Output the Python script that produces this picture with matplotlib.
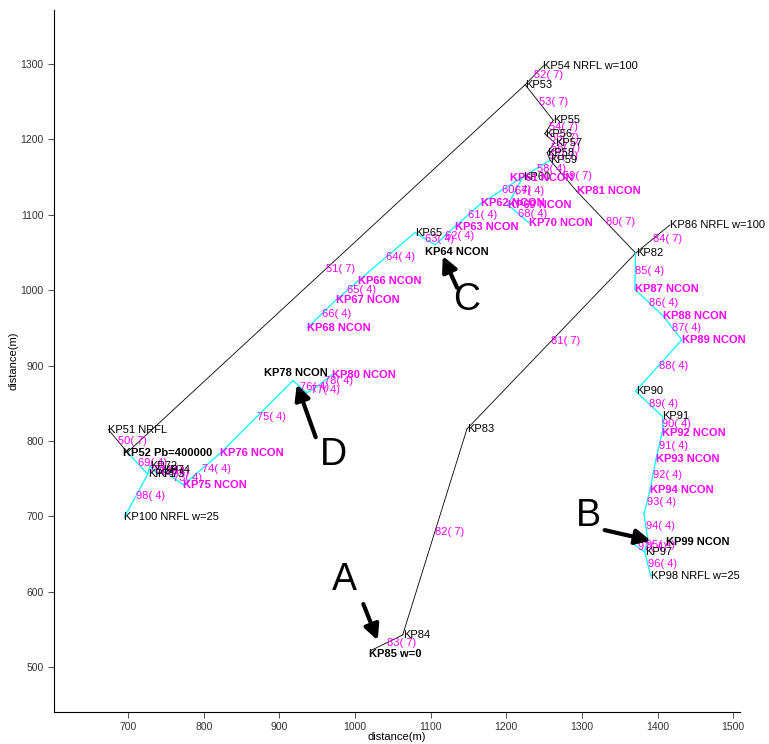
import matplotlib
matplotlib.use("Agg")
import matplotlib.pyplot as plt

plt.rcParams['font.family'] = ['Liberation Sans', 'DejaVu Sans']

# network nodes: name, position (m), tag shown after the name, label style
node_names = ["KP51", "KP52", "KP53", "KP54", "KP55", "KP56", "KP57", "KP58", "KP59", "KP60",
              "KP61", "KP62", "KP63", "KP64", "KP65", "KP66", "KP67", "KP68", "KP69", "KP70",
              "KP71", "KP72", "KP73", "KP74", "KP75", "KP76", "KP77", "KP78", "KP79", "KP80",
              "KP81", "KP82", "KP83", "KP84", "KP85", "KP86", "KP87", "KP88", "KP89", "KP90",
              "KP91", "KP92", "KP93", "KP94", "KP95", "KP96", "KP97", "KP98", "KP99", "KP100"]
node_x = [674, 699, 1225, 1249, 1262, 1251, 1264, 1254, 1258, 1222,
          1205, 1167, 1132, 1106, 1079, 1004, 975, 937, 1202, 1230,
          726, 729, 739, 746, 773, 822, 918, 936, 947, 970,
          1293, 1371, 1148, 1063, 1022, 1416, 1370, 1407, 1432, 1371,
          1406, 1406, 1398, 1390, 1382, 1387, 1383, 1391, 1366, 695]
node_y = [815, 785, 1272, 1297, 1225, 1207, 1195, 1182, 1172, 1150,
          1149, 1115, 1084, 1060, 1076, 1012, 987, 950, 1113, 1089,
          756, 767, 756, 761, 742, 784, 880, 864, 870, 888,
          1131, 1049, 816, 543, 523, 1086, 1001, 966, 934, 866,
          833, 811, 776, 735, 703, 671, 653, 621, 665, 699]
node_tags = ["NRFL", "Pb=400000", "", "NRFL w=100", "", "", "", "", "", "",
             "NCON", "NCON", "NCON", "NCON", "", "NCON", "NCON", "NCON", "NCON", "NCON",
             "", "", "", "", "NCON", "NCON", "", "NCON", "", "NCON",
             "NCON", "", "", "", "w=0", "NRFL w=100", "NCON", "NCON", "NCON", "",
             "", "NCON", "NCON", "NCON", "", "", "", "NRFL w=25", "NCON", "NRFL w=25"]
node_kind = ["plain", "mark", "plain", "plain", "plain", "plain", "plain", "plain", "plain", "plain",
             "ncon", "ncon", "ncon", "mark", "plain", "ncon", "ncon", "ncon", "ncon", "ncon",
             "plain", "plain", "plain", "plain", "ncon", "ncon", "none", "mark", "none", "ncon",
             "ncon", "plain", "plain", "plain", "mark", "plain", "ncon", "ncon", "ncon", "plain",
             "plain", "ncon", "ncon", "ncon", "none", "none", "plain", "plain", "mark", "plain"]

# pipes: id, start node, end node, diameter class
pipe_ids = [50, 51, 52, 53, 54, 55, 56, 57, 58, 59, 60, 61, 62, 63, 64, 65, 66, 67, 68,
            69, 70, 71, 72, 73, 74, 75, 76, 77, 78, 80, 81, 82, 83, 84,
            85, 86, 87, 88, 89, 90, 91, 92, 93, 94, 95, 96, 97, 98]
pipe_from = ["KP51", "KP52", "KP53", "KP53", "KP55", "KP56", "KP57", "KP58", "KP59", "KP59",
             "KP60", "KP62", "KP63", "KP64", "KP65", "KP66", "KP67", "KP60", "KP69",
             "KP52", "KP71", "KP72", "KP73", "KP74", "KP75", "KP76", "KP77", "KP78", "KP79",
             "KP81", "KP82", "KP83", "KP84", "KP82",
             "KP82", "KP87", "KP88", "KP89", "KP90", "KP91", "KP92", "KP93", "KP94", "KP95",
             "KP96", "KP97", "KP99", "KP71"]
pipe_to = ["KP52", "KP53", "KP54", "KP55", "KP56", "KP57", "KP58", "KP59", "KP60", "KP81",
           "KP62", "KP63", "KP64", "KP65", "KP66", "KP67", "KP68", "KP69", "KP70",
           "KP71", "KP72", "KP73", "KP74", "KP75", "KP76", "KP77", "KP78", "KP79", "KP80",
           "KP82", "KP83", "KP84", "KP85", "KP86",
           "KP87", "KP88", "KP89", "KP90", "KP91", "KP92", "KP93", "KP94", "KP95", "KP96",
           "KP97", "KP98", "KP97", "KP100"]
pipe_dn = [7, 7, 7, 7, 7, 7, 7, 7, 4, 7, 4, 4, 4, 4, 4, 4, 4, 4, 4,
           4, 4, 4, 4, 4, 4, 4, 4, 4, 4, 7, 7, 7, 7, 7,
           4, 4, 4, 4, 4, 4, 4, 4, 4, 4, 4, 4, 4, 4]

pos = {n: (x, y) for n, x, y in zip(node_names, node_x, node_y)}

# bold black labels are shifted off their node
mark_shift = {"KP52": (-6, -1), "KP64": (-13, -9), "KP78": (-56, 26),
              "KP85": (-3, -5), "KP99": (45, 1)}

fig = plt.figure(figsize=(7.69, 7.44), dpi=100)
ax = fig.add_axes([54 / 769, 32 / 744, 686 / 769, 702 / 744])

for pid, a, b, dn in zip(pipe_ids, pipe_from, pipe_to, pipe_dn):
    (x0, y0), (x1, y1) = pos[a], pos[b]
    col = 'k' if dn == 7 else '#00ffff'
    ax.plot([x0, x1], [y0, y1], color=col, lw=0.6 if dn == 7 else 0.9, zorder=1)

for pid, a, b, dn in zip(pipe_ids, pipe_from, pipe_to, pipe_dn):
    (x0, y0), (x1, y1) = pos[a], pos[b]
    ax.text((x0 + x1) / 2, (y0 + y1) / 2, "%d(%2d)" % (pid, dn), color='#ff00ff',
            fontsize=8, ha='left', va='center', zorder=3)

for n, x, y, tag, kind in zip(node_names, node_x, node_y, node_tags, node_kind):
    if kind == "none":
        continue
    txt = n + (" " + tag if tag else "")
    if kind == "plain":
        ax.text(x, y, txt, color='k', fontsize=8, ha='left', va='center', zorder=3)
    elif kind == "ncon":
        ax.text(x, y, txt, color='#ff00ff', fontsize=8, fontweight='bold',
                ha='left', va='center', zorder=3)
    else:
        dx, dy = mark_shift[n]
        ax.text(x + dx, y + dy, txt, color='k', fontsize=8, fontweight='bold',
                ha='left', va='center', zorder=4)

# callouts
callouts = [("A", (986, 616), (1011, 584), (1030, 536)),
            ("B", (1308, 701), (1330, 682), (1391, 668)),
            ("C", (1147, 987), (1135, 1003), (1116, 1045)),
            ("D", (971, 781), (948, 805), (923, 875))]
for letter, (lx, ly), tail, tip in callouts:
    ax.text(lx, ly, letter, fontsize=27, ha='center', va='center', color='k')
    ax.annotate("", xy=tip, xytext=tail,
                arrowprops=dict(arrowstyle='-|>,head_length=0.9,head_width=0.45',
                                color='k', lw=3, shrinkA=0, shrinkB=0))

ax.set_xlim(602, 1509)
ax.set_ylim(441, 1371)
ax.set_xticks(range(700, 1600, 100))
ax.set_yticks(range(500, 1400, 100))
ax.tick_params(direction='out', length=4, width=0.6, labelsize=7.5, colors='#333333')
for side in ('top', 'right'):
    ax.spines[side].set_visible(False)
for side in ('left', 'bottom'):
    ax.spines[side].set_linewidth(0.8)
ax.set_xlabel("distance(m)", fontsize=8, labelpad=0)
ax.set_ylabel("distance(m)", fontsize=8, labelpad=1)

fig.savefig("out.png", dpi=100)
